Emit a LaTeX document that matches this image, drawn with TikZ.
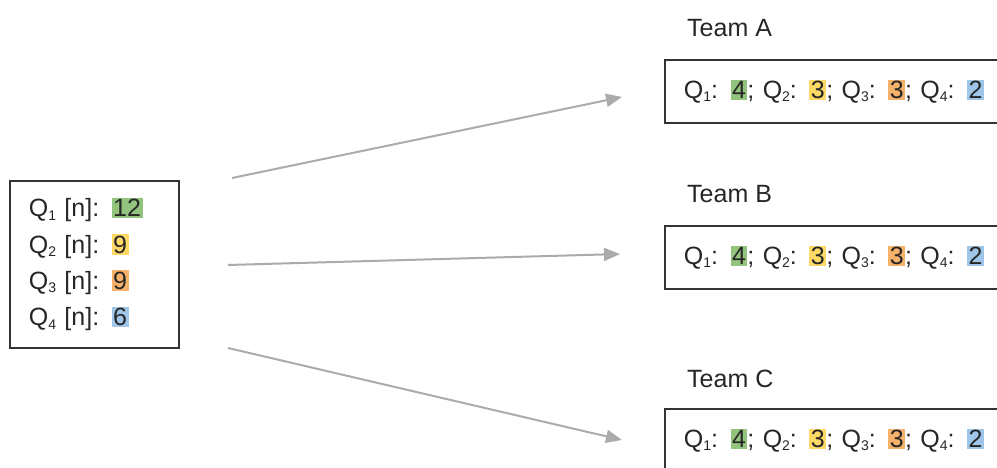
\documentclass[tikz,border=0pt]{standalone}
\usepackage{fontspec}
\setmainfont{Liberation Sans}
\usetikzlibrary{positioning, arrows.meta}
\definecolor{hlgreen}{HTML}{93C47D}
\definecolor{hlyellow}{HTML}{FFD966}
\definecolor{hlorange}{HTML}{F6B26B}
\definecolor{hlblue}{HTML}{9FC5E8}
\definecolor{boxline}{HTML}{333333}
\definecolor{arrowgray}{HTML}{ABABAB}
\tikzset{
  countbox/.style={
    rectangle,
    draw=boxline, line width=1.8pt,
    anchor=north west,
    inner xsep=19pt,
    align=left,
    text=black!85,
    font=\fontsize{25}{36.3}\selectfont
  },
  teambox/.style={
    countbox,
    minimum width=360pt,
    minimum height=63pt,
    text width=322pt
  },
  teamname/.style={
    anchor=base west,
    inner sep=0pt,
    text=black!85,
    font=\fontsize{25}{30}\selectfont
  },
  arrow/.style={
    draw=arrowgray,
    line width=2pt,
    -{Triangle[length=16pt,width=13pt]}
  }
}
\newcommand*\hl[2]{{\setlength{\fboxsep}{1.5pt}\colorbox{#1}{#2}}}
\newcommand*\qs[1]{Q\raisebox{-0.25ex}{\fontsize{14}{14}\selectfont #1}}

\begin{document}
\begin{tikzpicture}[x=1pt, y=-1pt]
\clip (0,0) rectangle (997,468);

% nodes
\node[countbox, minimum width=169pt, minimum height=167pt, text width=131pt] (counts) at (9,180)
{ \qs{1} [n]: \hl{hlgreen}{12}\\
  \qs{2} [n]: \hl{hlyellow}{9}\\
  \qs{3} [n]: \hl{hlorange}{9}\\
  \qs{4} [n]: \hl{hlblue}{6}
};

\node[teambox] (teamA) at (664,59)
{ \qs{1}: \hl{hlgreen}{4}; \qs{2}: \hl{hlyellow}{3}; \qs{3}: \hl{hlorange}{3}; \qs{4}: \hl{hlblue}{2} };
\node[teambox] (teamB) at (664,225)
{ \qs{1}: \hl{hlgreen}{4}; \qs{2}: \hl{hlyellow}{3}; \qs{3}: \hl{hlorange}{3}; \qs{4}: \hl{hlblue}{2} };
\node[teambox] (teamC) at (664,408)
{ \qs{1}: \hl{hlgreen}{4}; \qs{2}: \hl{hlyellow}{3}; \qs{3}: \hl{hlorange}{3}; \qs{4}: \hl{hlblue}{2} };

\node[teamname] (nameA) at (687,37) {Team A};
\node[teamname] (nameB) at (687,203) {Team B};
\node[teamname] (nameC) at (687,387) {Team C};

% edges
\coordinate (srcA) at (232,178);
\coordinate (dstA) at (622,97);
\coordinate (srcB) at (228,265);
\coordinate (dstB) at (620,254);
\coordinate (srcC) at (228,348);
\coordinate (dstC) at (622,440);

\draw [arrow] (srcA) -- (dstA);
\draw [arrow] (srcB) -- (dstB);
\draw [arrow] (srcC) -- (dstC);

\end{tikzpicture}
\end{document}
